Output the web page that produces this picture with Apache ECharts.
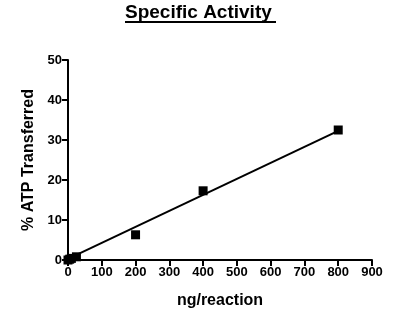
<!DOCTYPE html>
<html>
<head>
<meta charset="utf-8">
<script src="https://cdn.jsdelivr.net/npm/echarts@6/dist/echarts.min.js"></script>
<style>
html, body { margin: 0; padding: 0; background: #fff; }
#chart { width: 410px; height: 318px; }
</style>
</head>
<body>
<div id="chart"></div>
<script>
// measured points (ng/reaction, % ATP transferred)
var ngValues = [0, 5, 10, 25, 200, 400, 800];
var atpValues = [0, 0.2, 0.4, 0.8, 6.3, 17.3, 32.5];
// fitted line endpoints
var fitX = [0, 800];
var fitY = [0.3, 32.3];

var fontFam = 'Liberation Sans, Arial, sans-serif';

var points = [];
for (var i = 0; i < ngValues.length; i++) {
    points.push([ngValues[i], atpValues[i]]);
}
var fitLine = [];
for (var i = 0; i < fitX.length; i++) {
    fitLine.push([fitX[i], fitY[i]]);
}

var axisStyle = {
    axisLine: { show: true, onZero: false, lineStyle: { color: '#000', width: 2 } },
    axisTick: { show: true, length: 6, lineStyle: { color: '#000', width: 2 } },
    axisLabel: { color: '#000', fontWeight: 'bold', fontSize: 13, fontFamily: fontFam, margin: 6 },
    splitLine: { show: false }
};

var chart = echarts.init(document.getElementById('chart'));
chart.setOption({
    animation: false,
    backgroundColor: '#fff',
    title: {
        text: 'Specific Activity',
        left: 125,
        top: 3,
        padding: 0,
        textStyle: { color: '#000', fontWeight: 'bold', fontSize: 19, fontFamily: fontFam }
    },
    graphic: [{
        type: 'rect',
        shape: { x: 125, y: 21, width: 151, height: 2 },
        style: { fill: '#000' }
    }],
    grid: { left: 68, right: 38, top: 60, bottom: 58, containLabel: false },
    xAxis: echarts.util.merge({
        type: 'value',
        min: 0, max: 900, interval: 100,
        name: 'ng/reaction',
        nameLocation: 'middle',
        nameGap: 33,
        nameTextStyle: { color: '#000', fontWeight: 'bold', fontSize: 16, fontFamily: fontFam }
    }, echarts.util.clone(axisStyle)),
    yAxis: echarts.util.merge({
        type: 'value',
        min: 0, max: 50, interval: 10,
        name: '% ATP Transferred',
        nameLocation: 'middle',
        nameGap: 30,
        nameTextStyle: { color: '#000', fontWeight: 'bold', fontSize: 16, fontFamily: fontFam }
    }, echarts.util.clone(axisStyle)),
    series: [{
        type: 'line',
        data: fitLine,
        symbol: 'none',
        lineStyle: { color: '#000', width: 2 },
        z: 2
    }, {
        type: 'scatter',
        data: points,
        symbol: 'rect',
        symbolSize: 9,
        itemStyle: { color: '#000', opacity: 1 },
        z: 3
    }]
});
</script>
</body>
</html>
